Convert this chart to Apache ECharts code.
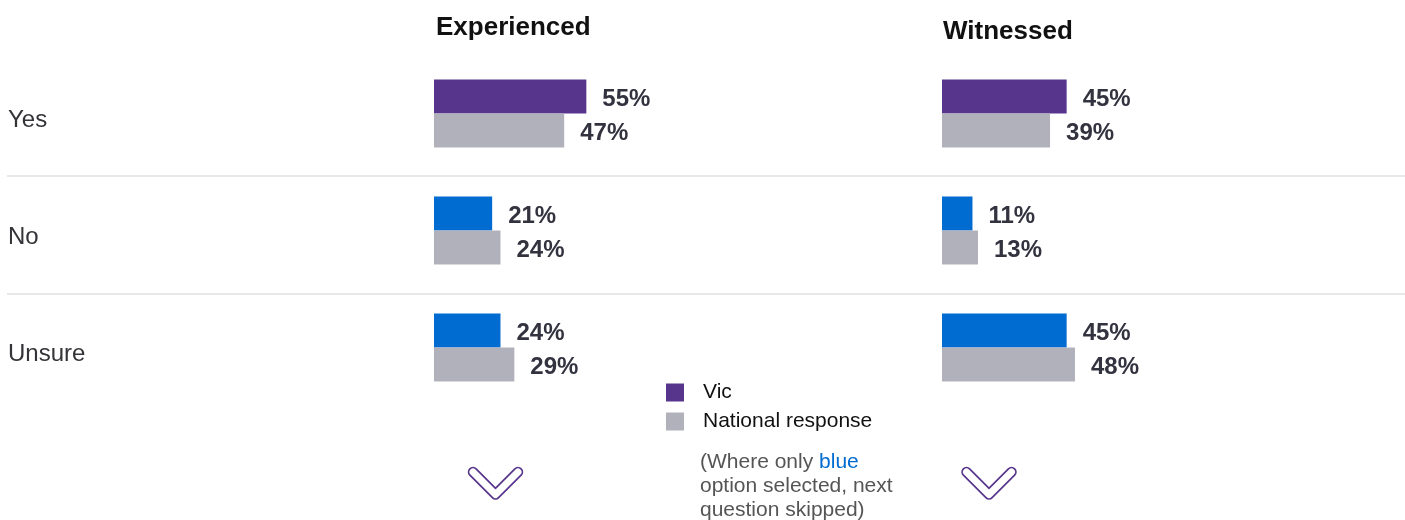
<!DOCTYPE html>
<html>
<head>
<meta charset="utf-8">
<script src="https://cdn.jsdelivr.net/npm/echarts@6/dist/echarts.min.js"></script>
<style>html,body{margin:0;padding:0;background:#fff;}#c{width:1405px;height:520px;}</style>
</head>
<body>
<div id="c"></div>
<script>
const categories = ['Yes', 'No', 'Unsure'];
const panelTitles = ['Experienced', 'Witnessed'];
const seriesNames = ['Vic', 'National response'];
const experiencedVic = [55, 21, 24];
const experiencedNational = [47, 24, 29];
const witnessedVic = [45, 11, 45];
const witnessedNational = [39, 13, 48];
const noteText = ['(Where only ', 'blue', 'option selected, next', 'question skipped)'];

const PURPLE = '#58358d', BLUE = '#006bd1', GRAY = '#b1b1bc';
const FONT = '"Liberation Sans", Arial, sans-serif';

const chart = echarts.init(document.getElementById('c'), null, {renderer: 'canvas'});

const grids = [
  {left: 434, top: 55, width: 277, height: 351},
  {left: 942, top: 55, width: 277, height: 351}
];

function yAxis(i) {
  return {
    type: 'category', gridIndex: i, data: categories, inverse: true,
    axisLine: {show: false}, axisTick: {show: false}, splitLine: {show: false},
    axisLabel: i === 0 ? {
      show: true, align: 'left', verticalAlign: 'top', lineHeight: 14,
      margin: 426, fontSize: 24, color: '#333338', fontFamily: FONT
    } : {show: false}
  };
}
function xAxis(i) {
  return {type: 'value', gridIndex: i, min: 0, max: 100, show: false};
}
const labelStyle = {
  show: true, position: 'right', distance: 16, formatter: '{c}%', offset: [0, 3],
  fontSize: 24, fontWeight: 'bold', color: '#333340', fontFamily: FONT
};
function vicSeries(i, data) {
  return {
    name: seriesNames[0], type: 'bar', xAxisIndex: i, yAxisIndex: i,
    data: data.map(function (v, k) {
      return {value: v, itemStyle: {color: k === 0 ? PURPLE : BLUE}};
    }),
    barWidth: 34, barGap: '0%',
    itemStyle: {color: PURPLE},
    label: labelStyle, silent: true
  };
}
function natSeries(i, data) {
  return {
    name: seriesNames[1], type: 'bar', xAxisIndex: i, yAxisIndex: i, data: data,
    barWidth: 34, barGap: '0%', itemStyle: {color: GRAY},
    label: labelStyle, silent: true
  };
}

function chevron(cx) {
  const pts = [[cx - 22.5, 472], [cx, 494.5], [cx + 22.5, 472]];
  return [
    {type: 'polyline', shape: {points: pts}, style: {stroke: PURPLE, lineWidth: 10.5, lineCap: 'round', lineJoin: 'round', fill: null}},
    {type: 'polyline', shape: {points: pts}, style: {stroke: '#fff', lineWidth: 7, lineCap: 'round', lineJoin: 'round', fill: null}}
  ];
}

const option = {
  animation: false,
  backgroundColor: '#fff',
  textStyle: {fontFamily: FONT},
  title: [
    {text: panelTitles[0], left: 436, top: 15, padding: 0,
     textStyle: {fontSize: 26, fontWeight: 'bold', color: '#111', fontFamily: FONT}},
    {text: panelTitles[1], left: 943, top: 19, padding: 0,
     textStyle: {fontSize: 26, fontWeight: 'bold', color: '#111', fontFamily: FONT}}
  ],
  legend: {
    data: seriesNames, orient: 'vertical', left: 666, top: 382, padding: 0,
    icon: 'rect', itemWidth: 18, itemHeight: 18, itemGap: 8,
    selectedMode: false,
    textStyle: {fontSize: 21, color: '#111', fontFamily: FONT, padding: [0, 0, 0, 14]}
  },
  grid: grids,
  xAxis: [xAxis(0), xAxis(1)],
  yAxis: [yAxis(0), yAxis(1)],
  series: [
    vicSeries(0, experiencedVic), natSeries(0, experiencedNational),
    vicSeries(1, witnessedVic), natSeries(1, witnessedNational)
  ],
  graphic: [
    {type: 'line', shape: {x1: 7, y1: 176, x2: 1405, y2: 176}, style: {stroke: '#e0e0e0', lineWidth: 1.5}, silent: true},
    {type: 'line', shape: {x1: 7, y1: 294, x2: 1405, y2: 294}, style: {stroke: '#e0e0e0', lineWidth: 1.5}, silent: true},
    {
      type: 'text', left: 700, top: 450, silent: true,
      style: {
        text: noteText[0] + '{b|' + noteText[1] + '}\n' + noteText[2] + '\n' + noteText[3],
        fontSize: 21, lineHeight: 24, fill: '#555', fontFamily: FONT,
        rich: {b: {fill: BLUE, fontSize: 21, lineHeight: 24, fontFamily: FONT}}
      }
    }
  ].concat(chevron(495.5), chevron(989))
};
chart.setOption(option);
</script>
</body>
</html>
